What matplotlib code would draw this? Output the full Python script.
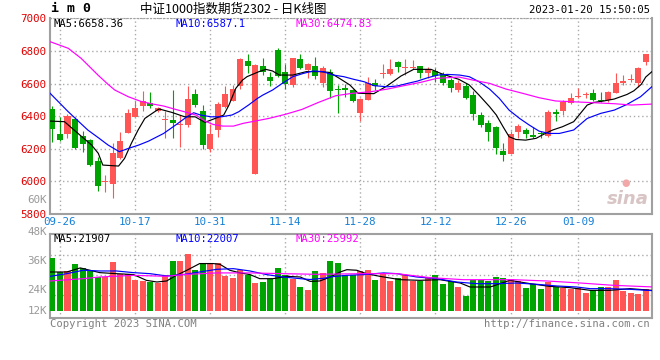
import numpy as np
import matplotlib.pyplot as plt

plt.rcParams['font.family'] = ['DejaVu Sans Mono']

# daily candles of IM2302, 2022-09-23 .. 2023-01-20 (index 0..79)
opens = [6441, 6290, 6288, 6382, 6280, 6251, 6124, 5996, 5985, 6145,
         6298, 6396, 6464, 6482, 6433, 6378, 6376, 6347, 6345, 6536,
         6431, 6196, 6315, 6456, 6493, 6587, 6738, 6047, 6707, 6640,
         6805, 6673, 6591, 6750, 6683, 6707, 6603, 6673, 6566, 6574,
         6558, 6421, 6499, 6603, 6656, 6658, 6732, 6693, 6693, 6707,
         6666, 6679, 6660, 6619, 6560, 6585, 6529, 6407, 6358, 6333,
         6186, 6169, 6304, 6315, 6284, 6298, 6280, 6423, 6433, 6482,
         6519, 6529, 6540, 6499, 6499, 6540, 6601, 6621, 6601, 6734]
highs = [6464, 6397, 6411, 6397, 6309, 6259, 6151, 6039, 6237, 6304,
         6442, 6493, 6554, 6546, 6458, 6431, 6560, 6407, 6585, 6566,
         6468, 6350, 6484, 6587, 6591, 6758, 6779, 6722, 6754, 6673,
         6820, 6720, 6758, 6781, 6724, 6763, 6707, 6689, 6591, 6595,
         6566, 6509, 6640, 6628, 6720, 6750, 6738, 6750, 6744, 6707,
         6701, 6693, 6668, 6636, 6621, 6601, 6554, 6423, 6374, 6339,
         6233, 6309, 6349, 6325, 6335, 6309, 6439, 6441, 6499, 6544,
         6574, 6550, 6566, 6550, 6554, 6662, 6652, 6656, 6703, 6781]
lows = [6243, 6247, 6268, 6198, 6182, 6096, 5942, 5936, 5896, 6137,
        6294, 6394, 6433, 6452, 6423, 6268, 6268, 6212, 6335, 6454,
        6198, 6182, 6270, 6448, 6493, 6566, 6662, 6047, 6652, 6585,
        6640, 6566, 6581, 6689, 6636, 6628, 6578, 6513, 6421, 6519,
        6484, 6370, 6499, 6558, 6636, 6652, 6673, 6652, 6687, 6636,
        6636, 6611, 6591, 6550, 6550, 6505, 6378, 6335, 6249, 6169,
        6127, 6169, 6264, 6264, 6264, 6264, 6274, 6370, 6407, 6476,
        6509, 6513, 6493, 6484, 6484, 6540, 6591, 6611, 6581, 6713]
closes = [6323, 6255, 6401, 6202, 6231, 6100, 5973, 6002, 6176, 6247,
          6419, 6450, 6493, 6464, 6448, 6382, 6360, 6352, 6505, 6468,
          6223, 6290, 6474, 6536, 6566, 6752, 6709, 6713, 6673, 6617,
          6644, 6595, 6758, 6693, 6720, 6648, 6693, 6554, 6558, 6560,
          6493, 6503, 6603, 6583, 6662, 6689, 6701, 6701, 6701, 6666,
          6687, 6648, 6603, 6574, 6601, 6513, 6415, 6345, 6304, 6206,
          6163, 6290, 6339, 6292, 6270, 6290, 6423, 6413, 6489, 6509,
          6525, 6538, 6499, 6493, 6546, 6601, 6615, 6628, 6693, 6779]
# volume in thousand lots
vol_k = [56.9, 42.1, 43.2, 50.4, 46.8, 43.9, 36.7, 36.7, 52.6, 39.6,
         40.3, 33.1, 32.0, 31.3, 30.2, 38.5, 53.6, 53.6, 61.6, 43.9,
         52.2, 52.2, 52.2, 37.4, 35.6, 44.6, 38.5, 30.2, 31.3, 34.9,
         46.8, 38.5, 34.2, 25.6, 22.3, 42.8, 41.0, 53.6, 51.5, 38.5,
         38.5, 43.2, 43.9, 33.1, 40.3, 32.0, 36.0, 38.5, 32.0, 32.0,
         36.7, 38.5, 28.8, 32.0, 25.6, 15.8, 33.8, 33.8, 32.0, 36.7,
         36.0, 34.9, 32.0, 24.8, 29.5, 23.8, 31.3, 25.9, 24.8, 24.1,
         24.8, 19.4, 22.3, 25.9, 25.9, 33.1, 21.6, 19.4, 18.0, 24.1]

# moving averages (position, value)
ma5_x = [-0.4, 1.6, 3.4, 5.2, 6.1, 6.7, 8.8, 9.6, 10.5, 11.4,
         12.3, 13.6, 14.2, 15.9, 17.6, 19.0, 20.3, 22.0, 22.8, 23.5,
         24.4, 25.3, 25.9, 27.5, 28.4, 29.3, 30.2, 32.0, 33.8, 35.6,
         36.9, 38.2, 39.6, 40.7, 42.8, 44.6, 46.4, 48.1, 50.4, 51.7,
         53.0, 54.1, 55.5, 56.8, 58.2, 59.1, 60.0, 60.8, 61.7, 63.0,
         64.4, 65.2, 66.6, 67.9, 69.4, 71.2, 72.1, 73.4, 74.8, 76.5,
         77.4, 78.4, 79.0, 79.8]
ma5 = [6370, 6366, 6294, 6223, 6172, 6100, 6094, 6141, 6233, 6315,
       6386, 6427, 6444, 6423, 6396, 6396, 6362, 6392, 6407, 6468,
       6570, 6621, 6642, 6673, 6687, 6677, 6652, 6652, 6673, 6673,
       6668, 6632, 6591, 6540, 6538, 6587, 6646, 6687, 6687, 6662,
       6642, 6626, 6591, 6529, 6458, 6407, 6335, 6274, 6257, 6253,
       6264, 6284, 6315, 6335, 6366, 6468, 6484, 6493, 6505, 6533,
       6555, 6595, 6640, 6672]
ma10_x = [-0.4, 2.1, 4.7, 6.1, 7.4, 8.9, 10.1, 11.5, 12.8, 14.8,
          16.5, 17.9, 18.8, 19.7, 21.1, 22.5, 23.9, 24.8, 26.1, 27.3,
          28.0, 29.3, 30.6, 32.0, 33.4, 34.7, 36.0, 37.4, 38.8, 40.1,
          41.5, 42.8, 44.6, 45.9, 47.3, 48.6, 50.0, 51.3, 52.6, 54.2,
          55.5, 56.8, 58.2, 59.5, 60.8, 62.2, 63.5, 64.8, 66.1, 67.5,
          69.4, 71.2, 73.0, 74.8, 76.5, 78.3, 79.8]
ma10 = [6544, 6427, 6315, 6268, 6223, 6182, 6202, 6223, 6247, 6294,
        6349, 6396, 6421, 6407, 6396, 6396, 6407, 6427, 6468, 6509,
        6529, 6560, 6601, 6642, 6662, 6677, 6673, 6652, 6642, 6626,
        6611, 6587, 6580, 6585, 6601, 6615, 6636, 6652, 6656, 6652,
        6642, 6611, 6566, 6509, 6437, 6386, 6345, 6308, 6294, 6294,
        6315, 6386, 6417, 6437, 6472, 6519, 6580]
ma30_x = [-0.4, 2.1, 3.8, 6.1, 7.4, 8.3, 10.1, 11.8, 13.4, 14.8,
          16.5, 17.9, 19.2, 20.3, 21.4, 22.7, 24.1, 25.4, 27.0, 28.8,
          31.0, 33.2, 35.4, 37.7, 39.9, 42.4, 44.6, 46.8, 49.0, 51.2,
          54.1, 56.0, 58.2, 60.4, 62.6, 64.8, 67.0, 71.3, 74.9, 77.1, 79.8]
ma30 = [6858, 6816, 6755, 6650, 6595, 6560, 6519, 6490, 6474, 6462,
        6440, 6423, 6405, 6370, 6349, 6339, 6339, 6356, 6370, 6386,
        6411, 6441, 6484, 6525, 6540, 6550, 6566, 6587, 6607, 6632,
        6640, 6621, 6601, 6566, 6540, 6513, 6493, 6484, 6476, 6468, 6474]

vma5_x = [-0.3, 1.9, 3.7, 6.3, 8.5, 10.8, 12.5, 13.9, 15.2, 16.5,
          17.9, 19.6, 21.4, 22.3, 23.6, 25.0, 26.3, 27.6, 29.4, 31.2,
          33.0, 34.3, 35.6, 37.0, 38.3, 39.2, 40.5, 41.8, 43.6, 46.3,
          48.9, 51.6, 54.3, 55.6, 58.3, 60.9, 63.6, 66.2, 68.9, 71.6,
          74.2, 76.9, 79.8]
vma5 = [42.1, 42.1, 46.5, 41.4, 40.3, 39.3, 33.1, 31.3, 32.4, 38.5,
        44.0, 51.2, 51.2, 50.4, 44.0, 41.1, 39.3, 34.9, 34.9, 37.4,
        36.7, 32.0, 32.4, 36.7, 42.1, 44.6, 44.0, 40.3, 37.4, 33.8,
        33.1, 33.8, 30.2, 25.9, 25.9, 33.1, 29.5, 26.6, 25.2, 22.3,
        22.3, 24.1, 22.3]
vma10_x = [-0.3, 1.9, 4.1, 6.3, 8.5, 10.8, 13.0, 15.2, 17.4, 19.6,
           21.9, 24.1, 26.3, 28.5, 30.7, 33.0, 34.3, 36.3, 36.9, 39.2,
           41.4, 44.1, 45.9, 48.5, 51.2, 53.8, 56.5, 59.2, 61.8, 64.5,
           67.2, 69.8, 71.6, 74.2, 76.9, 79.8]
vma10 = [37.4, 40.3, 44.0, 43.2, 43.2, 41.4, 40.3, 37.8, 39.3, 42.1,
         45.0, 45.7, 43.2, 39.3, 36.7, 34.9, 34.0, 35.5, 36.7, 38.5,
         39.3, 41.1, 40.3, 36.7, 34.9, 31.3, 29.5, 29.5, 30.2, 28.8,
         27.0, 25.9, 24.1, 24.1, 23.4, 22.0]
vma30_x = [-0.3, 4.1, 6.3, 10.8, 15.2, 17.4, 21.9, 26.3, 30.7, 35.2,
           41.4, 45.9, 47.7, 50.3, 54.7, 61.4, 65.8, 70.3, 74.7, 79.8]
vma30 = [32.4, 34.9, 36.7, 38.5, 37.4, 39.3, 41.1, 41.1, 40.3, 39.6,
         40.3, 40.3, 38.5, 36.0, 33.8, 33.8, 32.4, 30.2, 27.7, 26.0]

tick_pos = [1, 11, 21, 31, 41, 51, 61, 70]
tick_lbl = ['09-26', '10-17', '10-31', '11-14', '11-28', '12-12', '12-26', '01-09']
price_ticks = [5800, 6000, 6200, 6400, 6600, 6800, 7000]

RED = '#ff5555'
GREEN = '#00a400'
GRID = dict(color='#aaaaaa', linestyle=(0, (1, 2)), linewidth=1)
W, H = 660, 360


def box(l, t, r, b):
    return [l / W, 1 - b / H, (r - l) / W, (b - t) / H]


def ptext(x, y, s, **kw):
    fig.text(x / W, 1 - y / H, s, **kw)


fig = plt.figure(figsize=(6.6, 3.6), dpi=100)
ax = fig.add_axes(box(50, 18.3, 652, 214))
axv = fig.add_axes(box(50, 234.3, 652, 318.3))

o = np.array(opens, float)
c = np.array(closes, float)
x = np.arange(len(c))
cols = [RED if cc >= oo else GREEN for oo, cc in zip(o, c)]

# price panel
ax.vlines(x, lows, highs, colors=cols, linewidth=0.8, zorder=3)
ax.bar(x, np.maximum(np.abs(c - o), 5), 0.8, bottom=np.minimum(o, c),
       color=cols, linewidth=0, zorder=3)
ax.plot(ma5_x, ma5, color='black', lw=0.85, zorder=4)
ax.plot(ma10_x, ma10, color='#0000ff', lw=0.85, zorder=4)
ax.plot(ma30_x, ma30, color='#ff00ff', lw=0.85, zorder=4)
ax.set_xlim(-0.33, 79.83)
ax.set_ylim(5800, 7000)
ax.set_yticks(price_ticks)
ax.set_yticklabels([str(v) for v in price_ticks], color='#e00000', fontsize=7.8)
ax.set_xticks(tick_pos)
ax.set_xticklabels(tick_lbl, color='#1480d8', fontsize=7.8)
ax.tick_params(length=0, pad=2.5)
ax.grid(True, **GRID)
ax.set_axisbelow(True)
for s in ['left', 'right', 'bottom']:
    ax.spines[s].set_color('#a0a0a0')
    ax.spines[s].set_linewidth(1.5)
ax.spines['top'].set_color('#a0a0a0')
ax.spines['top'].set_linestyle((0, (1, 2)))
# faint sina watermark
ax.text(0.995, 0.075, 'sina', transform=ax.transAxes, ha='right', va='center',
        fontsize=13, fontstyle='italic', fontweight='bold', color='#d8c4c4',
        family='DejaVu Sans')
ax.text(0.957, 0.16, '●', transform=ax.transAxes, ha='center', va='center',
        fontsize=7, color='#f2a8a8', family='DejaVu Sans')

# volume panel
v = np.array(vol_k) * 1000
axv.bar(x, v, 0.8, color=cols, linewidth=0, zorder=3)
axv.plot(vma5_x, np.array(vma5) * 1000, color='black', lw=0.85, zorder=4)
axv.plot(vma10_x, np.array(vma10) * 1000, color='#0000ff', lw=0.85, zorder=4)
axv.plot(vma30_x, np.array(vma30) * 1000, color='#ff00ff', lw=0.85, zorder=4)
axv.set_xlim(-0.33, 79.83)
axv.set_ylim(-7900, 82800)
axv.set_xticks(tick_pos)
axv.set_xticklabels([])
axv.set_yticks([16800, 38400, 60000])
axv.set_yticklabels([])
axv.tick_params(length=0)
axv.grid(True, **GRID)
axv.set_axisbelow(True)
for s in axv.spines.values():
    s.set_color('#a0a0a0')
    s.set_linewidth(1.5)

for lbl, yy in [('60K', 200), ('48K', 232), ('36K', 261), ('24K', 290), ('12K', 311)]:
    ptext(47, yy, lbl, ha='right', va='center', color='#999999', fontsize=7.8)

# header texts
ptext(51, 9, 'i m 0', ha='left', va='center', fontsize=9.5, fontweight='bold')
ptext(140, 9, '中证1000指数期货2302 - 日K线图', ha='left', va='center', fontsize=9,
      family=['Noto Sans CJK SC', 'DejaVu Sans'])
ptext(650, 10, '2023-01-20 15:50:05', ha='right', va='center', fontsize=7.6)

ptext(53, 24, 'MA5:6658.36', ha='left', va='center', fontsize=7.6, color='black')
ptext(175, 24, 'MA10:6587.1', ha='left', va='center', fontsize=7.6, color='#0000ff')
ptext(295, 24, 'MA30:6474.83', ha='left', va='center', fontsize=7.6, color='#ff00ff')
ptext(53, 238.5, 'MA5:21907', ha='left', va='center', fontsize=7.6, color='black')
ptext(175, 238.5, 'MA10:22007', ha='left', va='center', fontsize=7.6, color='#0000ff')
ptext(295, 238.5, 'MA30:25992', ha='left', va='center', fontsize=7.6, color='#ff00ff')

ptext(50, 324, 'Copyright 2023 SINA.COM', ha='left', va='center', fontsize=7.6, color='#808080')
ptext(650, 324, 'http://finance.sina.com.cn', ha='right', va='center', fontsize=7.6, color='#808080')

fig.savefig('out.png', dpi=100)
